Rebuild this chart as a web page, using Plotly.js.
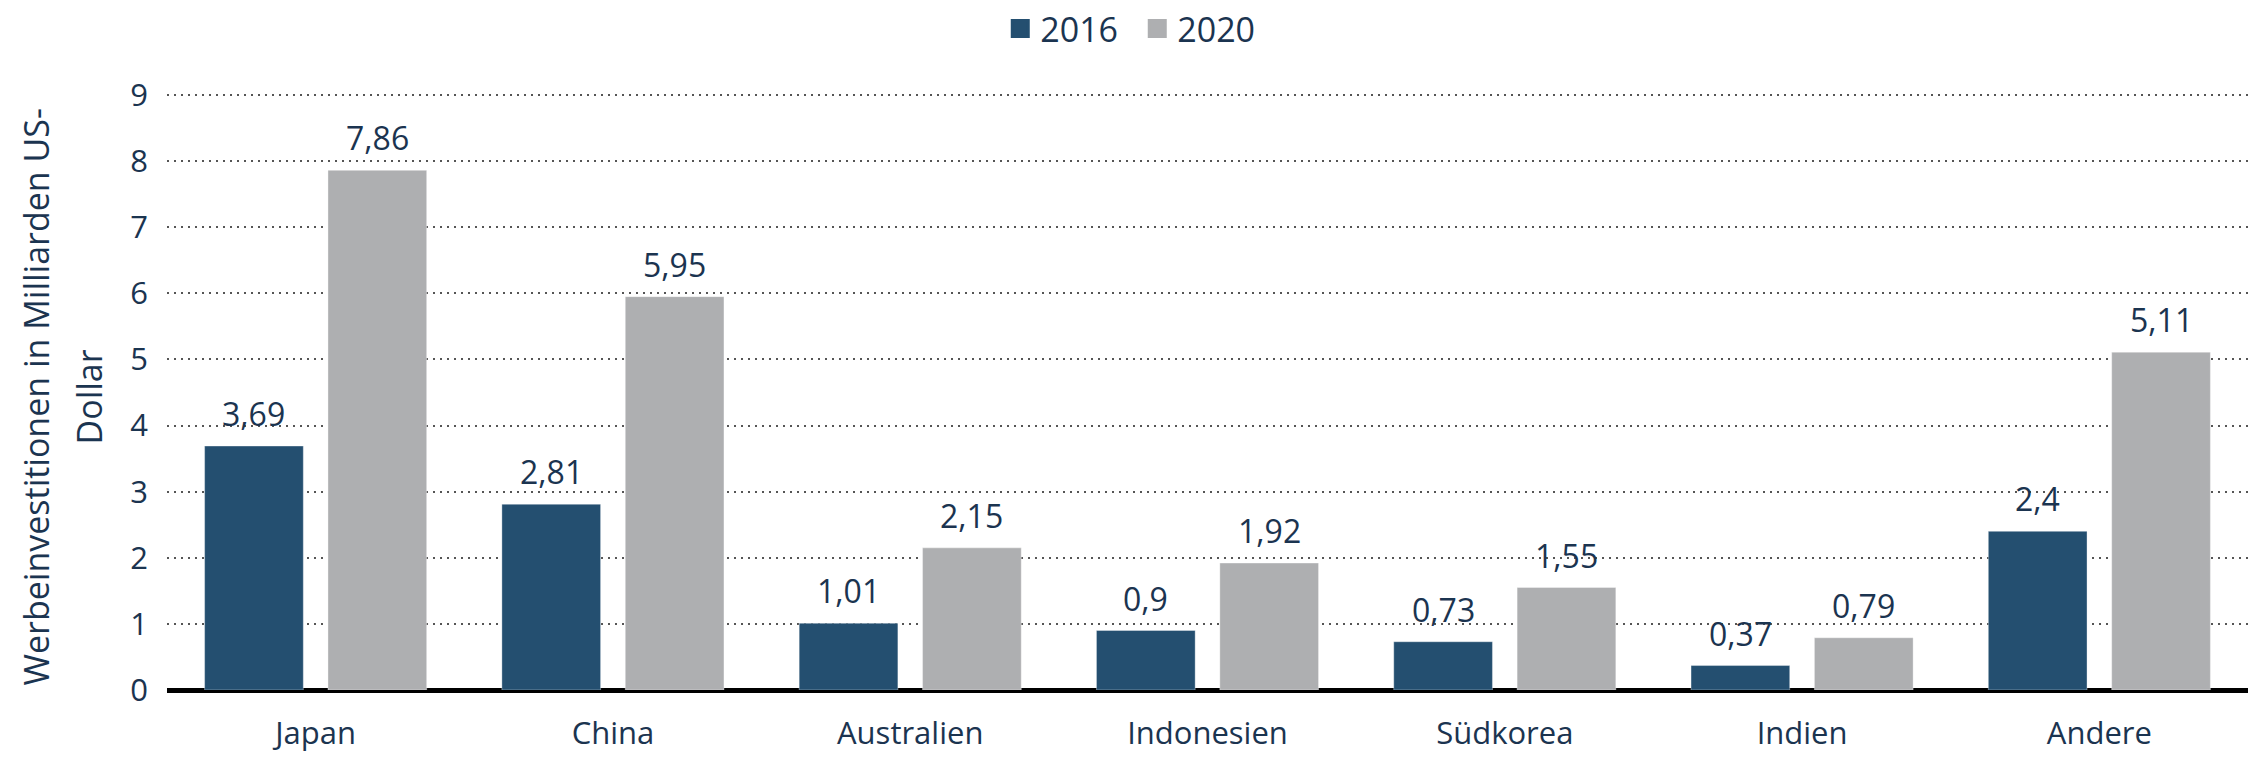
<!DOCTYPE html>
<html>
<head>
<meta charset="utf-8">
<script src="https://cdn.plot.ly/plotly-3.0.1.min.js"></script>
<style>html,body{margin:0;padding:0;background:#fff;}#chart{width:2252px;height:758px;}</style>
</head>
<body>
<div id="chart"></div>
<script>
const categories = ["Japan", "China", "Australien", "Indonesien", "Südkorea", "Indien", "Andere"];
const values2016 = [3.69, 2.81, 1.01, 0.9, 0.73, 0.37, 2.4];
const values2020 = [7.86, 5.95, 2.15, 1.92, 1.55, 0.79, 5.11];
const seriesNames = ["2016", "2020"];
const seriesColors = ["#244f70", "#aeafb1"];
const yTickVals = [0, 1, 2, 3, 4, 5, 6, 7, 8, 9];
const yTitleLines = ["Werbeinvestitionen in Milliarden US-", "Dollar"];

const navy = "#1b3450";
const FONT = "Open Sans";
const fmt = v => String(v).replace(".", ",");
const BARGAP = 0.17;
const GROUPGAP = 0.2;
const slotOffset = (1 - BARGAP) / 4;

const seriesValues = [values2016, values2020];

const traces = [];
seriesValues.forEach((vals, k) => {
  traces.push({
    type: "bar",
    x: categories,
    y: vals,
    name: seriesNames[k],
    showlegend: false,
    hoverinfo: "none",
    marker: {color: seriesColors[k], line: {color: "rgba(255,255,255,0.35)", width: 1}}
  });
});
// legend-only entries with larger square symbols (point lies below the visible range)
seriesValues.forEach((vals, k) => {
  traces.push({
    type: "scatter", mode: "markers",
    x: [categories[0]], y: [-5],
    name: seriesNames[k],
    showlegend: true,
    cliponaxis: true,
    hoverinfo: "none",
    marker: {symbol: "square", size: 16, color: seriesColors[k], line: {color: seriesColors[k], width: 3}}
  });
});

const annotations = [];
seriesValues.forEach((vals, k) => {
  vals.forEach((v, i) => {
    annotations.push({
      xref: "x", yref: "y",
      x: i + (k === 0 ? -slotOffset : slotOffset),
      y: v,
      text: fmt(v),
      showarrow: false,
      xanchor: "center", yanchor: "bottom",
      yshift: 9,
      font: {family: FONT, size: 32, color: navy}
    });
  });
});
// y-axis title, two lines
annotations.push({
  xref: "paper", yref: "paper", x: 0, y: 0.49, xshift: -131,
  text: yTitleLines[0], textangle: -90, showarrow: false,
  xanchor: "center", yanchor: "middle",
  font: {family: FONT, size: 34, color: navy}
});
annotations.push({
  xref: "paper", yref: "paper", x: 0, y: 0.49, xshift: -78,
  text: yTitleLines[1], textangle: -90, showarrow: false,
  xanchor: "center", yanchor: "middle",
  font: {family: FONT, size: 34, color: navy}
});

const layout = {
  width: 2252, height: 758,
  margin: {l: 167, r: 4, t: 93, b: 68},
  paper_bgcolor: "#fff", plot_bgcolor: "#fff",
  font: {family: FONT, size: 31, color: navy},
  barmode: "group",
  bargap: BARGAP,
  bargroupgap: GROUPGAP,
  showlegend: true,
  legend: {
    orientation: "h", xref: "container", yref: "container",
    x: 0.505, xanchor: "center", y: 1, yanchor: "top",
    font: {family: FONT, size: 34, color: navy},
    itemwidth: 30, tracegroupgap: 0,
    entrywidth: 92, entrywidthmode: "pixels"
  },
  annotations: annotations,
  xaxis: {
    type: "category",
    range: [-0.5, categories.length - 0.5],
    showgrid: false, showline: false, ticks: "", zeroline: false,
    tickfont: {family: FONT, size: 31, color: navy},
    ticklabelstandoff: 22,
    fixedrange: true
  },
  yaxis: {
    range: [0, 9.03], tickvals: yTickVals, ticktext: yTickVals.map(String),
    showgrid: true, gridcolor: "#555", griddash: "2px,5px", gridwidth: 2,
    zeroline: true, zerolinecolor: "#000", zerolinewidth: 5,
    showline: false, ticks: "",
    tickfont: {family: FONT, size: 31, color: navy},
    ticklabelstandoff: 18,
    fixedrange: true
  }
};

Plotly.newPlot("chart", traces, layout, {displayModeBar: false, staticPlot: true});
</script>
</body>
</html>
